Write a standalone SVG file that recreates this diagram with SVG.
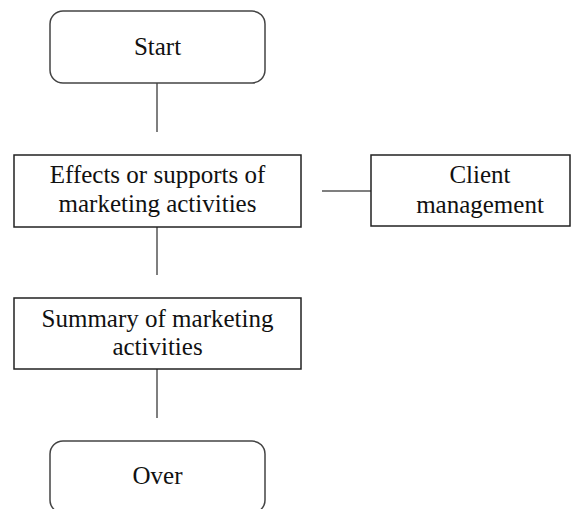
<svg xmlns="http://www.w3.org/2000/svg" width="571" height="509" viewBox="0 0 571 509">
<style>
.box{fill:#fff;stroke:#222;stroke-width:1.5}
.rbox{fill:#fff;stroke:#444;stroke-width:1.5}
.t{font-family:"Liberation Serif","Times New Roman",serif;font-size:25px;fill:#111;text-anchor:middle}
.c{stroke:#555;stroke-width:1.5;fill:none}
</style>
<rect width="571" height="509" fill="#fff"/>
<g id="connectors">
<line class="c" x1="157" y1="83" x2="157" y2="132"/>
<line class="c" x1="157" y1="227" x2="157" y2="275"/>
<line class="c" x1="157" y1="369" x2="157" y2="418"/>
<line class="c" x1="322" y1="191" x2="371" y2="191"/>
</g>
<g id="start">
<rect class="rbox" x="50" y="11" width="215" height="72" rx="13"/>
<text class="t" x="157.5" y="55">Start</text>
</g>
<g id="effects">
<rect class="box" x="14" y="155" width="287" height="72"/>
<text class="t" x="157.5" y="183">Effects or supports of</text>
<text class="t" x="157.5" y="212">marketing activities</text>
</g>
<g id="client">
<rect class="box" x="371" y="155" width="199" height="71"/>
<text class="t" x="480" y="183">Client</text>
<text class="t" x="480" y="213">management</text>
</g>
<g id="summary">
<rect class="box" x="14" y="298" width="287" height="71"/>
<text class="t" x="157.5" y="327">Summary of marketing</text>
<text class="t" x="157.5" y="355">activities</text>
</g>
<g id="over">
<rect class="rbox" x="50" y="441" width="215" height="72" rx="13"/>
<text class="t" x="157.5" y="484">Over</text>
</g>
</svg>
